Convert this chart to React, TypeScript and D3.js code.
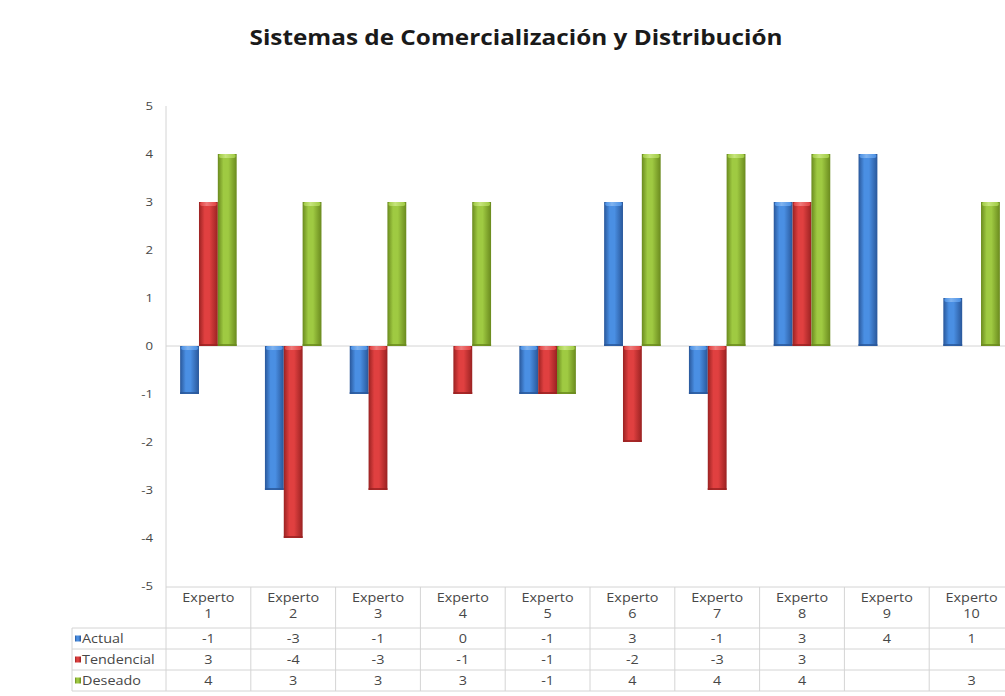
import React from 'react';
import * as d3 from 'd3';

const categories = ['Experto 1', 'Experto 2', 'Experto 3', 'Experto 4', 'Experto 5', 'Experto 6', 'Experto 7', 'Experto 8', 'Experto 9', 'Experto 10'];
const seriesNames = ['Actual', 'Tendencial', 'Deseado'];
const actual: (number | null)[] = [-1, -3, -1, 0, -1, 3, -1, 3, 4, 1];
const tendencial: (number | null)[] = [3, -4, -3, -1, -1, -2, -3, 3, null, null];
const deseado: (number | null)[] = [4, 3, 3, 3, -1, 4, 4, 4, null, 3];
const yTicks = [5, 4, 3, 2, 1, 0, -1, -2, -3, -4, -5];

const seriesValues = [actual, tendencial, deseado];
const palette = [
  { edge: '#29579a', mid: '#4a8fe3', light: '#7fb3f0' },
  { edge: '#9a2222', mid: '#e04040', light: '#ef7a7a' },
  { edge: '#6a8a1e', mid: '#9fca42', light: '#c6e47c' },
];

const W = 1005;
const H = 696;
const plotLeft = 166;
const plotRight = 1014;
const plotTop = 106;
const plotBottom = 586;
const headerH = 41;
const rowH = 21;
const legendLeft = 72;
const SX = 1.2;

function T(props: { x: number; y: number; anchor?: string; size?: number; children: React.ReactNode }) {
  const { x, y, anchor = 'start', size = 12, children } = props;
  return (
    <text
      transform={`translate(${x},${y}) scale(${SX},1)`}
      textAnchor={anchor}
      fontFamily="'Open Sans', 'Noto Sans', sans-serif"
      fontSize={size}
      fill="#474747"
    >
      {children}
    </text>
  );
}

export default function App() {
  const x = d3.scaleBand<string>().domain(categories).range([plotLeft, plotRight]).paddingInner(0).paddingOuter(0);
  const xs = d3.scaleBand<string>().domain(seriesNames).range([0, x.bandwidth()]).paddingInner(0).paddingOuter(0.75);
  const y = d3.scaleLinear().domain([-5, 5]).range([plotBottom, plotTop]);
  const tableTop = plotBottom + 1;
  const rowsTop = tableTop + headerH;
  const tableBottom = rowsTop + rowH * 3;
  const lineColor = '#d4d4d4';

  return (
    <svg width={W} height={H} style={{ position: 'absolute', left: 0, top: 0, background: '#fff' }}>
      <defs>
        {palette.map((p, i) => (
          <linearGradient key={i} id={`g${i}`} x1="0" x2="1" y1="0" y2="0">
            <stop offset="0%" stopColor={p.edge} />
            <stop offset="30%" stopColor={p.mid} />
            <stop offset="55%" stopColor={p.mid} />
            <stop offset="100%" stopColor={p.edge} />
          </linearGradient>
        ))}
        {palette.map((p, i) => (
          <linearGradient key={`c${i}`} id={`c${i}`} x1="0" x2="1" y1="0" y2="0">
            <stop offset="0%" stopColor={p.mid} />
            <stop offset="40%" stopColor={p.light} />
            <stop offset="100%" stopColor={p.mid} />
          </linearGradient>
        ))}
      </defs>
      <rect x={0} y={0} width={W} height={H} fill="#fff" />
      <text
        x={516}
        y={45}
        textAnchor="middle"
        fontFamily="'Open Sans', 'Noto Sans', sans-serif"
        fontWeight="bold"
        fontSize={21}
        fill="#1a1a1a"
        textLength={533}
        lengthAdjust="spacingAndGlyphs"
      >
        Sistemas de Comercialización y Distribución
      </text>

      {/* y axis */}
      <line x1={plotLeft} x2={plotLeft} y1={plotTop} y2={tableBottom} stroke={lineColor} />
      {yTicks.map((t) => (
        <T key={t} x={153} y={y(t) + 4} anchor="end" size={11}>
          {t}
        </T>
      ))}
      {/* zero line */}
      <line x1={plotLeft} x2={plotRight} y1={y(0)} y2={y(0)} stroke={lineColor} />

      {/* bars */}
      {seriesValues.map((vals, si) =>
        vals.map((v, ci) => {
          if (v === null || v === 0) return null;
          const bx = (x(categories[ci]) as number) + (xs(seriesNames[si]) as number);
          const bw = xs.bandwidth();
          const top = y(Math.max(0, v));
          const bot = y(Math.min(0, v));
          return (
            <g key={`${si}-${ci}`}>
              <rect x={bx} y={top} width={bw} height={bot - top} fill={`url(#g${si})`} />
              <rect x={bx + 1} y={top} width={bw - 2} height={4} rx={2} fill={`url(#c${si})`} />
              <rect x={bx} y={bot - 2} width={bw} height={2} fill={palette[si].edge} opacity={0.8} />
            </g>
          );
        })
      )}

      {/* table */}
      <line x1={plotLeft} x2={plotRight} y1={tableTop} y2={tableTop} stroke={lineColor} />
      {[0, 1, 2, 3].map((r) => (
        <line key={r} x1={legendLeft} x2={plotRight} y1={rowsTop + r * rowH} y2={rowsTop + r * rowH} stroke={lineColor} />
      ))}
      <line x1={legendLeft} x2={legendLeft} y1={rowsTop} y2={tableBottom} stroke={lineColor} />
      {categories.map((c) => (
        <line key={c} x1={(x(c) as number) + x.bandwidth()} x2={(x(c) as number) + x.bandwidth()} y1={tableTop} y2={tableBottom} stroke={lineColor} />
      ))}
      {categories.map((c) => {
        const cx = (x(c) as number) + x.bandwidth() / 2;
        const parts = c.split(' ');
        return (
          <g key={`h${c}`}>
            <T x={cx} y={tableTop + 15} anchor="middle">
              {parts[0]}
            </T>
            <T x={cx} y={tableTop + 31} anchor="middle">
              {parts[1]}
            </T>
          </g>
        );
      })}
      {seriesNames.map((s, si) => {
        const cy = rowsTop + si * rowH + rowH / 2;
        return (
          <g key={s}>
            <rect x={75} y={cy - 3} width={6} height={6} fill={`url(#g${si})`} />
            <T x={82} y={cy + 4}>
              {s}
            </T>
            {seriesValues[si].map((v, ci) =>
              v === null ? null : (
                <T key={ci} x={(x(categories[ci]) as number) + x.bandwidth() / 2} y={cy + 4} anchor="middle">
                  {v}
                </T>
              )
            )}
          </g>
        );
      })}
    </svg>
  );
}
